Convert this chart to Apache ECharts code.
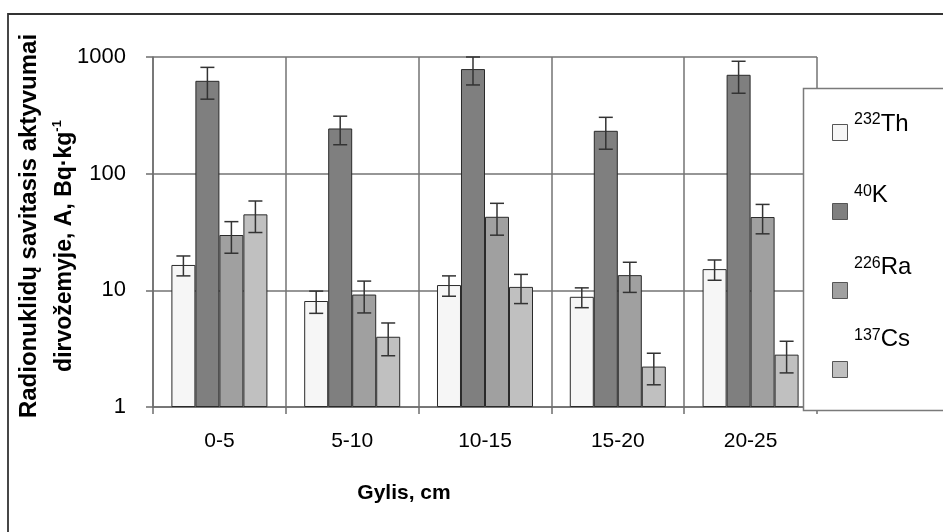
<!DOCTYPE html>
<html>
<head>
<meta charset="utf-8">
<title>Radionuklidų savitasis aktyvumas</title>
<script src="https://cdn.jsdelivr.net/npm/echarts@6/dist/echarts.min.js"></script>
<style>
  html, body { margin: 0; padding: 0; background: #ffffff; }
  #chart { width: 943px; height: 532px; }
</style>
</head>
<body>
<div id="chart"></div>
<script>
// Soil depth intervals (cm)
const categories = ['0-5', '5-10', '10-15', '15-20', '20-25'];

// Specific activity, Bq/kg, and the ± uncertainty for each depth
const th232 = [16.5, 8.1, 11.1, 8.8, 15.2];
const th232Err = [3.2, 1.75, 2.2, 1.7, 3.0];
const k40 = [625, 244, 788, 233, 704];
const k40Err = [190, 67, 212, 71, 215];
const ra226 = [29.8, 9.2, 42.7, 13.5, 42.5];
const ra226Err = [9, 2.8, 13, 3.9, 12];
const cs137 = [44.8, 4.0, 10.7, 2.22, 2.81];
const cs137Err = [13.5, 1.25, 3.0, 0.67, 0.85];

const seriesNames = ['232Th', '40K', '226Ra', '137Cs'];
const seriesValues = [th232, k40, ra226, cs137];
const seriesErrors = [th232Err, k40Err, ra226Err, cs137Err];
const seriesColors = ['#f6f6f6', '#7f7f7f', '#a0a0a0', '#c0c0c0'];

// Y tick labels on the log axis
const yTicks = [1, 10, 100, 1000];

const FONT = '"Liberation Sans", Arial, sans-serif';
const CAT_GAP = 0.277;

const chart = echarts.init(document.getElementById('chart'), null, { renderer: 'canvas' });

const barSeries = seriesNames.map((name, i) => ({
  name: name,
  type: 'bar',
  data: seriesValues[i],
  barGap: '0%',
  barCategoryGap: (CAT_GAP * 100) + '%',
  itemStyle: { color: seriesColors[i], borderColor: '#2a2a2a', borderWidth: 1 },
  emphasis: { disabled: true },
  z: 2
}));

// Error bar endpoints: [category, low, high, series index]
const errData = [];
seriesValues.forEach((vals, s) => {
  vals.forEach((v, c) => {
    errData.push([c, v - seriesErrors[s][c], v + seriesErrors[s][c], s]);
  });
});

const errorSeries = {
  type: 'custom',
  name: 'err',
  data: errData,
  z: 3,
  silent: true,
  renderItem: function (params, api) {
    const c = api.value(0), lo = api.value(1), hi = api.value(2), s = api.value(3);
    const band = api.coord([1, 10])[0] - api.coord([0, 10])[0];
    const barW = band * (1 - CAT_GAP) / 4;
    const x = api.coord([c, lo])[0] + (s - 1.5) * barW;
    const yLo = api.coord([c, lo])[1];
    const yHi = api.coord([c, hi])[1];
    const cap = 7;
    const style = { stroke: '#333333', lineWidth: 1.5 };
    return {
      type: 'group',
      children: [
        { type: 'line', shape: { x1: x, y1: yLo, x2: x, y2: yHi }, style: style },
        { type: 'line', shape: { x1: x - cap, y1: yHi, x2: x + cap, y2: yHi }, style: style },
        { type: 'line', shape: { x1: x - cap, y1: yLo, x2: x + cap, y2: yLo }, style: style }
      ]
    };
  }
};

function supLabel(name) {
  const m = name.match(/^(\d+)(.*)$/);
  return '{sup|' + m[1] + '}{main|' + m[2] + '}';
}

const option = {
  animation: false,
  backgroundColor: '#ffffff',
  grid: { left: 153, right: 126, top: 57, bottom: 125 },
  xAxis: {
    type: 'category',
    data: categories,
    boundaryGap: true,
    axisLine: { show: true, lineStyle: { color: '#6e6e6e', width: 1.5 } },
    axisTick: { show: true, alignWithLabel: false, length: 7, lineStyle: { color: '#6e6e6e', width: 1.5 } },
    axisLabel: { color: '#000', fontFamily: FONT, fontSize: 21, margin: 24 },
    splitLine: { show: true, lineStyle: { color: '#737373', width: 1.5 } }
  },
  yAxis: {
    type: 'log',
    logBase: 10,
    min: yTicks[0],
    max: yTicks[yTicks.length - 1],
    axisLine: { show: true, lineStyle: { color: '#6e6e6e', width: 1.5 } },
    axisTick: { show: true, length: 7, lineStyle: { color: '#6e6e6e', width: 1.5 } },
    minorTick: { show: false },
    axisLabel: {
      color: '#000', fontFamily: FONT, fontSize: 22, margin: 27,
      formatter: function (v) { return String(Math.round(v)); }
    },
    splitLine: { show: true, lineStyle: { color: '#737373', width: 1.5 } }
  },
  legend: [
    {
      // swatches
      orient: 'vertical',
      left: 827,
      top: 119,
      itemWidth: 15,
      itemHeight: 16,
      itemGap: 62,
      icon: 'rect',
      selectedMode: false,
      data: seriesNames,
      formatter: function () { return ''; },
      textStyle: { fontSize: 1 },
      itemStyle: { borderColor: '#555555', borderWidth: 1 },
      z: 6
    },
    {
      // isotope names with mass numbers as superscripts
      orient: 'vertical',
      left: 844,
      top: 101,
      icon: 'none',
      itemWidth: 0,
      itemHeight: 10,
      itemGap: 41.7,
      selectedMode: false,
      data: seriesNames,
      formatter: supLabel,
      textStyle: {
        color: '#000',
        fontFamily: FONT,
        rich: {
          sup: { fontSize: 16, fontFamily: FONT, color: '#000', verticalAlign: 'top', lineHeight: 24, padding: [6, 0, 0, 0] },
          main: { fontSize: 24, fontFamily: FONT, color: '#000', verticalAlign: 'bottom', lineHeight: 30 }
        }
      },
      z: 6
    }
  ],
  graphic: [
    {
      type: 'rect',
      shape: { x: 8, y: 14, width: 1000, height: 600 },
      style: { fill: 'none', stroke: '#333333', lineWidth: 1.8 },
      z: 1, silent: true
    },
    {
      type: 'rect',
      shape: { x: 803.5, y: 88.5, width: 200, height: 322 },
      style: { fill: '#ffffff', stroke: '#7a7a7a', lineWidth: 1.5 },
      z: 4, silent: true
    },
    {
      type: 'text',
      x: 29, y: 226,
      rotation: Math.PI / 2,
      style: {
        text: 'Radionuklidų savitasis aktyvumai',
        fontSize: 24, fontWeight: 'bold', fontFamily: FONT,
        fill: '#000',
        align: 'center',
        verticalAlign: 'middle'
      },
      z: 5, silent: true
    },
    {
      type: 'text',
      x: 65, y: 246,
      rotation: Math.PI / 2,
      style: {
        text: 'dirvožemyje, A, Bq·kg{sup|-1}',
        fontSize: 23, fontWeight: 'bold', fontFamily: FONT,
        fill: '#000',
        align: 'center',
        verticalAlign: 'middle',
        rich: {
          sup: { fontSize: 13, fontWeight: 'bold', fontFamily: FONT, fill: '#000', verticalAlign: 'top', lineHeight: 28 }
        }
      },
      z: 5, silent: true
    },
    {
      type: 'text',
      x: 404, y: 493,
      style: {
        text: 'Gylis, cm',
        fontSize: 21, fontWeight: 'bold', fontFamily: FONT,
        fill: '#000',
        align: 'center',
        verticalAlign: 'middle'
      },
      z: 5, silent: true
    }
  ],
  series: barSeries.concat([errorSeries])
};

chart.setOption(option);
</script>
</body>
</html>
